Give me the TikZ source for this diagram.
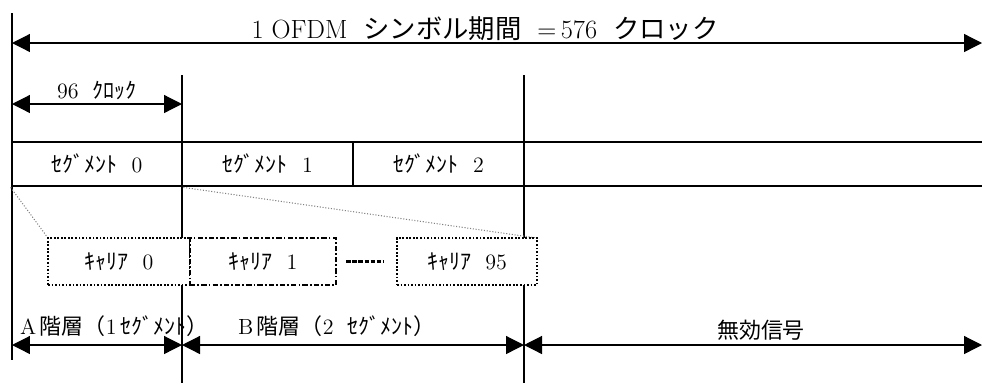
\documentclass[tikz,border=0pt]{standalone}
\usepackage{fontspec}
\newfontfamily\jp{Noto Sans CJK JP}
\usetikzlibrary{arrows.meta}
\tikzset{
  dimarrow/.style={{Triangle[length=0.36cm,width=0.36cm]}-{Triangle[length=0.36cm,width=0.36cm]}, line width=0.7pt},
  labeltext/.style={inner sep=1pt, font=\fontsize{12.5}{14}\selectfont},
  segbox/.style={draw, line width=1.6pt, minimum height=0.88cm, inner sep=0pt, font=\fontsize{12.5}{14}\selectfont},
  carbox/.style={draw, fill=white, densely dotted, line width=1pt, minimum height=0.94cm, inner sep=0pt, font=\fontsize{12.5}{14}\selectfont},
}
\begin{document}
\begin{tikzpicture}[x=0.02cm, y=-0.02cm]
  \useasboundingbox (0,0) rectangle (982,383);
  % Líneas verticales
  \coordinate (l0top) at (12,13);
  \coordinate (l0bot) at (12,360);
  \coordinate (l1top) at (182,75);
  \coordinate (l1bot) at (182,383);
  \coordinate (l2top) at (524,75);
  \coordinate (l2bot) at (524,383);
  \draw[line width=0.7pt] (l0top) -- (l0bot);
  \draw[line width=0.7pt] (l1top) -- (l1bot);
  \draw[line width=0.7pt] (l2top) -- (l2bot);
  % Periodo de símbolo
  \coordinate (symL) at (12,43);
  \coordinate (symR) at (982,43);
  \draw[dimarrow] (symL) -- (symR);
  \node[inner sep=1pt, font=\fontsize{15}{17}\selectfont] (sym) at (485,29)
    {1\ OFDM\ \ {\jp シンボル期間}\ \ =\,576\ \ {\jp クロック}};
  \coordinate (clkL) at (12,104);
  \coordinate (clkR) at (182,104);
  \draw[dimarrow] (clkL) -- (clkR);
  \node[labeltext] (clk) at (97,90) {96\ \ {\jp ｸﾛｯｸ}};
  % Segmentos
  \node[segbox, minimum width=3.4cm] (seg0) at (97,164) {{\jp ｾｸﾞﾒﾝﾄ}\ \ 0};
  \node[segbox, minimum width=3.42cm] (seg1) at (267.5,164) {{\jp ｾｸﾞﾒﾝﾄ}\ \ 1};
  \node[segbox, minimum width=3.42cm] (seg2) at (438.5,164) {{\jp ｾｸﾞﾒﾝﾄ}\ \ 2};
  \node[segbox, minimum width=9.4cm] (idle) at (759,164) {};
  % Portadoras
  \draw[densely dotted, gray, line width=0.6pt] (seg0.south west) -- (48,238);
  \draw[densely dotted, gray, line width=0.6pt] (seg0.south east) -- (537,238);
  \node[carbox, minimum width=2.84cm] (car0) at (119,261.5) {{\jp ｷｬﾘｱ}\ \ 0};
  \node[carbox, minimum width=2.92cm, dash pattern=on 3pt off 1.2pt on 1pt off 1.2pt, line width=1.3pt] (car1) at (263,261.5) {{\jp ｷｬﾘｱ}\ \ 1};
  \node[carbox, minimum width=2.8cm] (car95) at (467,261.5) {{\jp ｷｬﾘｱ}\ \ 95};
  \draw[dash pattern=on 2.5pt off 1pt, line width=1.3pt, shorten <=0.18cm, shorten >=0.24cm] (car1.east) -- (car95.west);
  % Capas
  \coordinate (layA) at (12,345);
  \coordinate (layB) at (182,345);
  \coordinate (layC) at (524,345);
  \coordinate (layD) at (982,345);
  \draw[dimarrow] (layA) -- (layB);
  \draw[dimarrow] (layB) -- (layC);
  \draw[dimarrow] (layC) -- (layD);
  \node[labeltext, anchor=west] (labA) at (18,326) {A\,{\jp 階層（}1\,{\jp ｾｸﾞﾒﾝﾄ）}};
  \node[labeltext, anchor=west] (labB) at (236,326) {B\,{\jp 階層（}2\ \ {\jp ｾｸﾞﾒﾝﾄ）}};
  \node[labeltext] (labC) at (761,330) {{\jp 無効信号}};
\end{tikzpicture}
\end{document}
